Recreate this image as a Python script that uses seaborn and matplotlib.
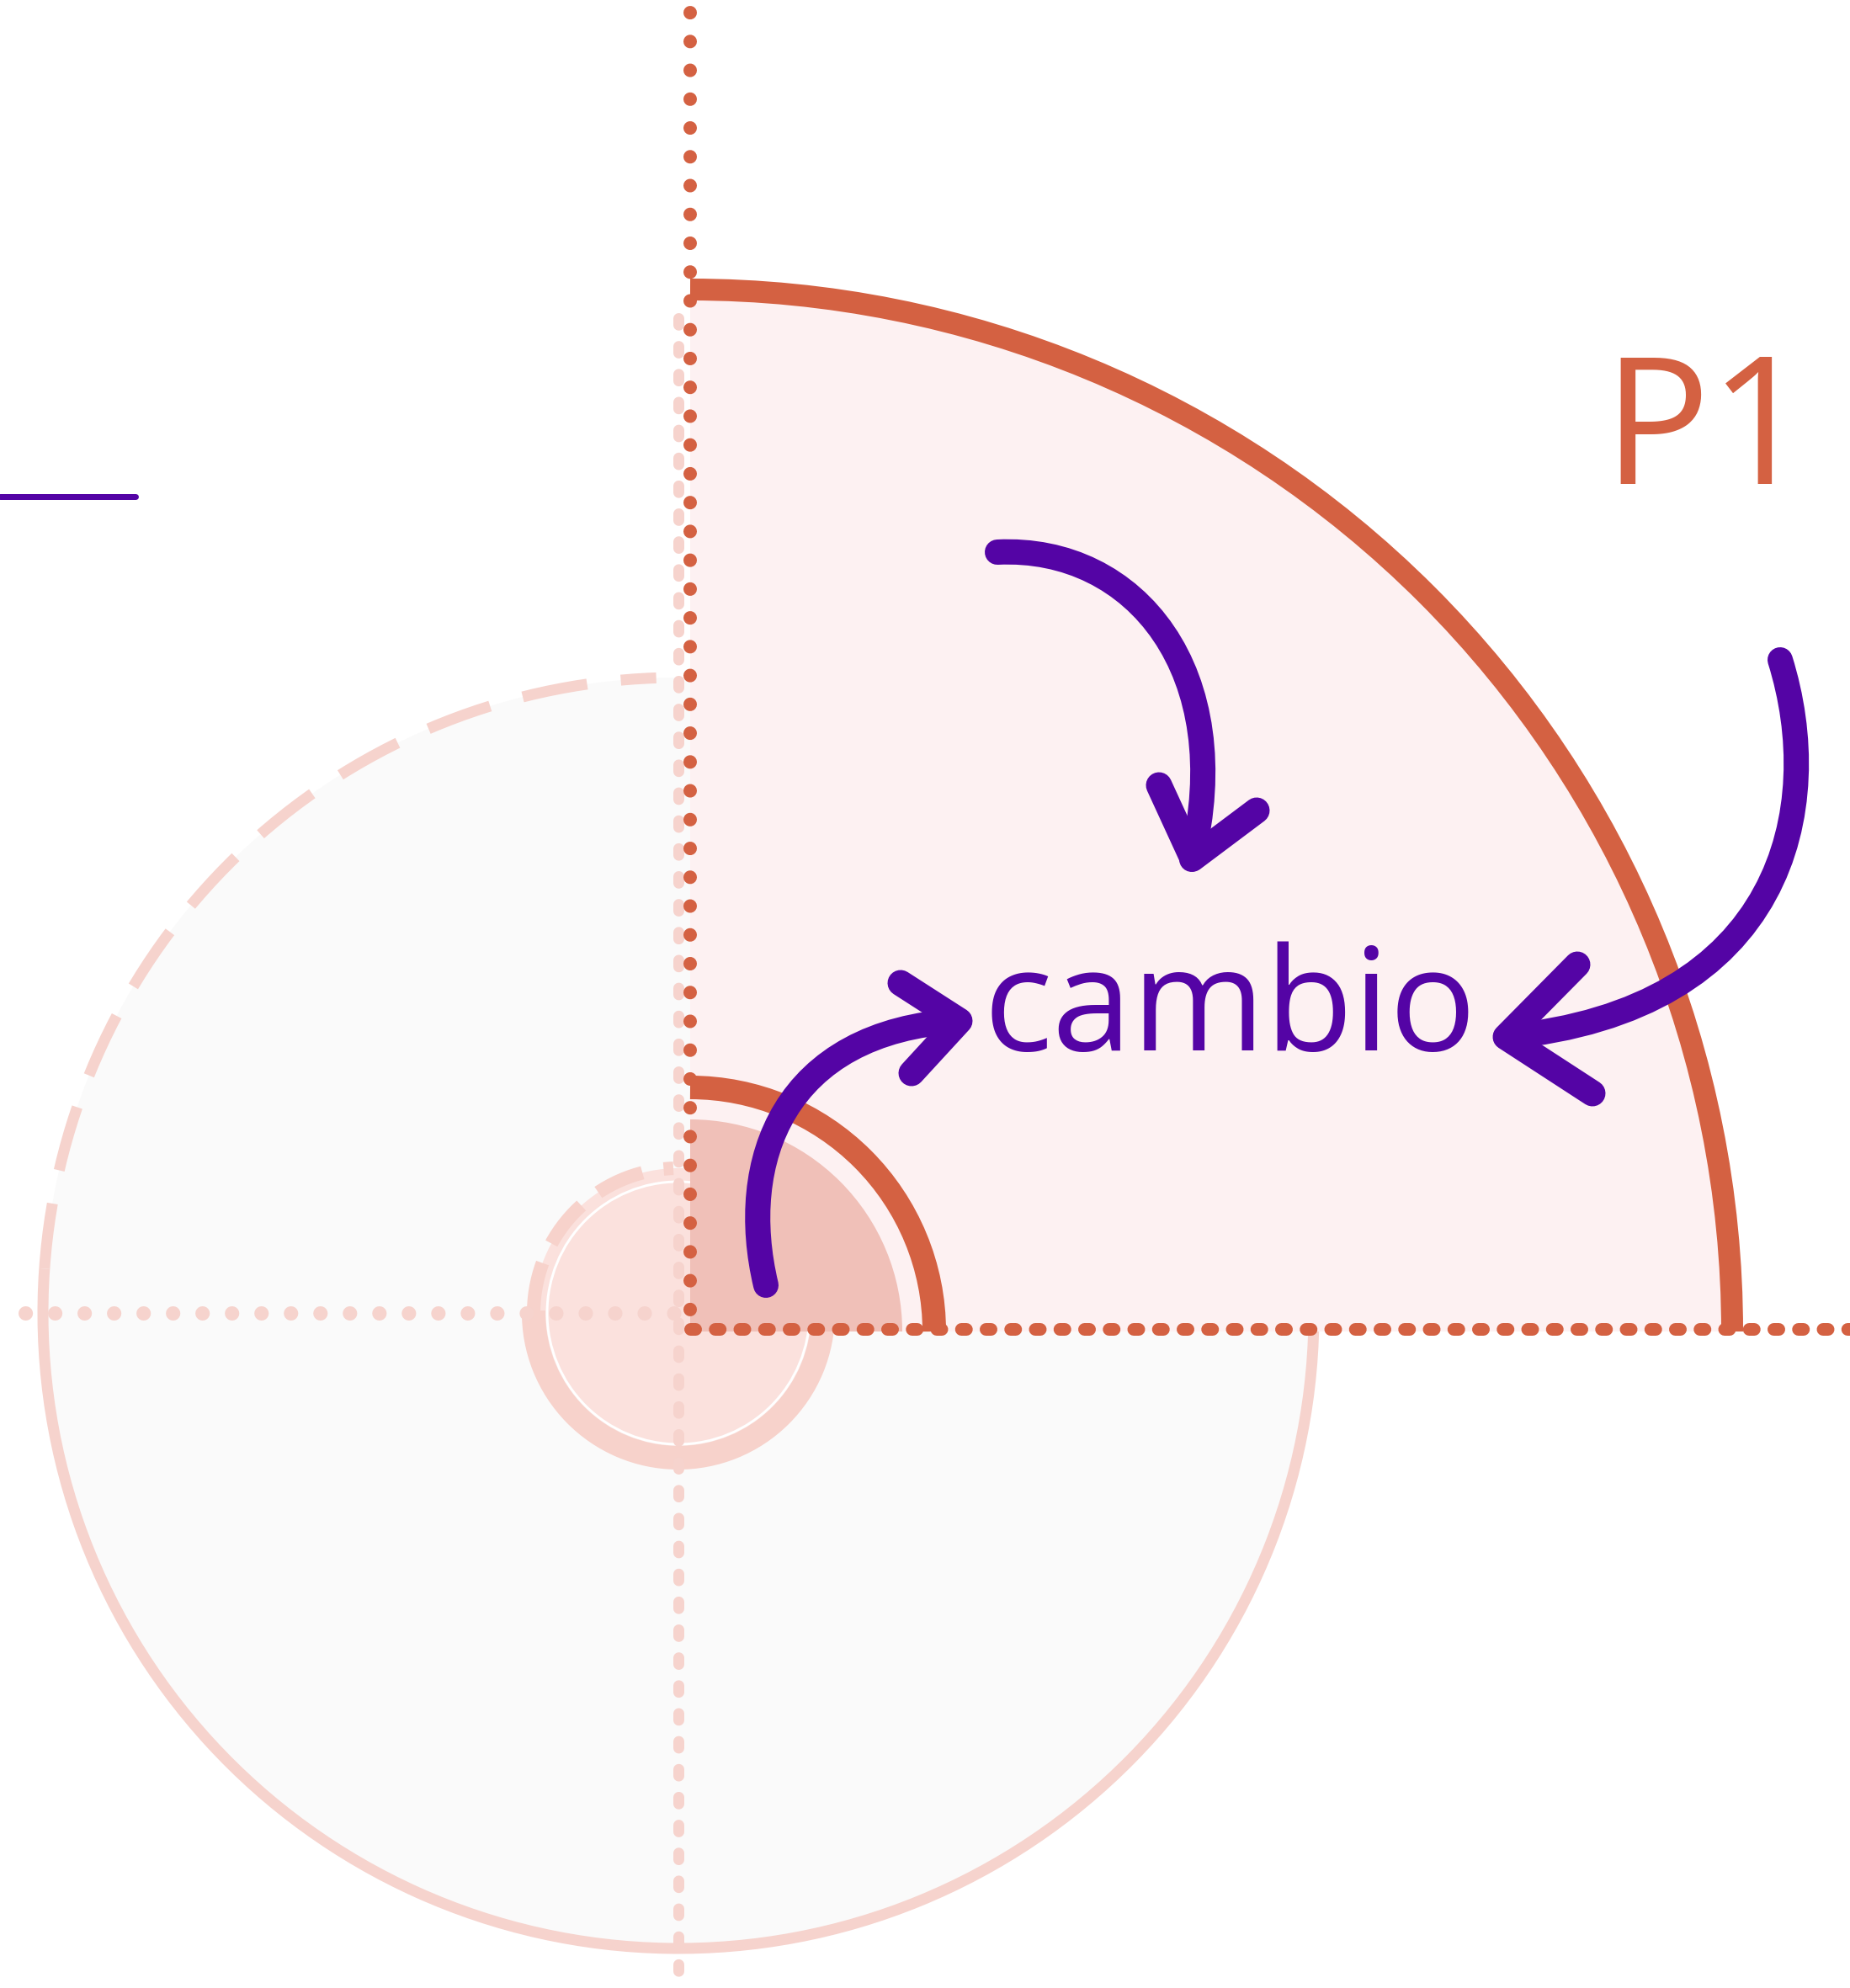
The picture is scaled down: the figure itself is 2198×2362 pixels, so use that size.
import numpy as np
import pandas as pd
import matplotlib.pyplot as plt
import seaborn as sns
from matplotlib.patches import Arc, Wedge, Circle, PathPatch
from matplotlib.path import Path

sns.set_theme(style="white")
plt.rcParams['font.family'] = ['Open Sans', 'DejaVu Sans']

# colours
orange = "#d46142"
purple = "#5404a5"
faint = "#f6d3cd"
sector_fill = "#fdf1f2"
deep_fill = "#f0c0b8"
disc_fill = "#fafafa"
ring_fill = "#fbe1dd"
ring_edge = "#f7d2cb"

PX = 0.72  # points per pixel at dpi 100

# geometry, in image pixels (y grows downward)
origin = (820, 1582)
big_r = 1238
small_r = 290
deep_r = 252
ghost_c = (806, 1560)
ghost_big_r = 755
ghost_ring_r = 172
ghost_inner_r = 156

# arrow shafts as cubic bezier control points, and the V heads
arrow_top = [(1185, 656), (1350, 648), (1470, 800), (1416, 1021)]
arrow_right = [(2115, 784), (2170, 960), (2120, 1200), (1789, 1232)]
arrow_left = [(910, 1527), (875, 1380), (930, 1225), (1140, 1213)]
head_top_x = [1377, 1417, 1493]
head_top_y = [933, 1020, 963]
head_right_x = [1874, 1789, 1892]
head_right_y = [1146, 1232, 1299]
head_left_x = [1070, 1140, 1083]
head_left_y = [1168, 1213, 1275]

# short purple rule at top left
rule_x = [0, 161]
rule_y = [590, 590]

labels = ["cambio", "P1"]

fig = plt.figure(figsize=(21.98, 23.62), dpi=100, facecolor="white")
ax = fig.add_axes([0, 0, 1, 1])
ax.set_facecolor("white")

# faint background disc (left, dashed upper-left quarter)
ax.add_patch(Circle(ghost_c, ghost_big_r, facecolor=disc_fill, edgecolor="none", zorder=1))
ax.add_patch(Arc(ghost_c, 2 * ghost_big_r, 2 * ghost_big_r, theta1=184, theta2=268,
                 edgecolor=faint, lw=13 * PX, linestyle=(0, (6.0, 3.1)), zorder=2))
ax.add_patch(Arc(ghost_c, 2 * ghost_big_r, 2 * ghost_big_r, theta1=-2, theta2=184,
                 edgecolor=faint, lw=13 * PX, zorder=2))

# small faint disc
ax.add_patch(Circle(ghost_c, ghost_ring_r, facecolor=ring_fill, edgecolor="none", zorder=3))
ax.add_patch(Arc(ghost_c, 2 * ghost_ring_r, 2 * ghost_ring_r, theta1=181, theta2=268,
                 edgecolor=ring_edge, lw=16 * PX, linestyle=(0, (3.6, 1.6)), zorder=3))
ax.add_patch(Arc(ghost_c, 2 * ghost_ring_r, 2 * ghost_ring_r, theta1=0, theta2=181,
                 edgecolor=ring_edge, lw=28 * PX, zorder=3))
ax.add_patch(Circle(ghost_c, ghost_inner_r, facecolor="none", edgecolor="white", lw=3 * PX, zorder=3))

# faint dotted axes
ax.plot([30, 820], [1560, 1560], color=faint, lw=17 * PX, linestyle=(0, (0.01, 2.05)),
        dash_capstyle="round", zorder=4)
ax.plot([806, 806], [378, 2362], color=faint, lw=13 * PX, linestyle=(0, (0.6, 1.95)),
        dash_capstyle="round", zorder=4)

# quarter sectors
ax.add_patch(Wedge(origin, big_r, 270, 360, facecolor=sector_fill, edgecolor="none", zorder=5))
ax.add_patch(Wedge(origin, deep_r, 270, 360, facecolor=deep_fill, edgecolor="none", zorder=6))
ax.add_patch(Arc(origin, 2 * big_r, 2 * big_r, theta1=270, theta2=360,
                 edgecolor=orange, lw=26 * PX, zorder=7))
ax.add_patch(Arc(origin, 2 * small_r, 2 * small_r, theta1=270, theta2=360,
                 edgecolor=orange, lw=28 * PX, zorder=7))

# orange dotted axes
ax.plot([820, 820], [15, 1582], color=orange, lw=16 * PX, linestyle=(0, (0.01, 2.13)),
        dash_capstyle="round", zorder=8)
ax.plot([820, 2198], [1579, 1579], color=orange, lw=15 * PX, linestyle=(0, (0.4, 1.55)),
        dash_capstyle="round", zorder=8)

# purple rule
sns.lineplot(x=rule_x, y=rule_y, estimator=None, sort=False, color=purple,
             linewidth=7 * PX, ax=ax, zorder=9)

# arrows
codes = [Path.MOVETO, Path.CURVE4, Path.CURVE4, Path.CURVE4]
for shaft in [arrow_top, arrow_right, arrow_left]:
    ax.add_patch(PathPatch(Path(shaft, codes), facecolor="none", edgecolor=purple,
                           lw=30 * PX, capstyle="round", zorder=9))
for hx, hy in [(head_top_x, head_top_y), (head_right_x, head_right_y), (head_left_x, head_left_y)]:
    sns.lineplot(x=hx, y=hy, estimator=None, sort=False, color=purple, linewidth=31 * PX,
                 solid_capstyle="round", solid_joinstyle="round", ax=ax, zorder=9)

# labels
ax.text(1168, 1248, labels[0], fontsize=123, color=purple, ha="left", va="baseline", zorder=10)
ax.text(2028, 575, labels[1], fontsize=152, color=orange, ha="center", va="baseline", zorder=10)

ax.set_xlim(0, 2198)
ax.set_ylim(2362, 0)
ax.axis("off")

fig.savefig("out.png", dpi=100, facecolor="white")
